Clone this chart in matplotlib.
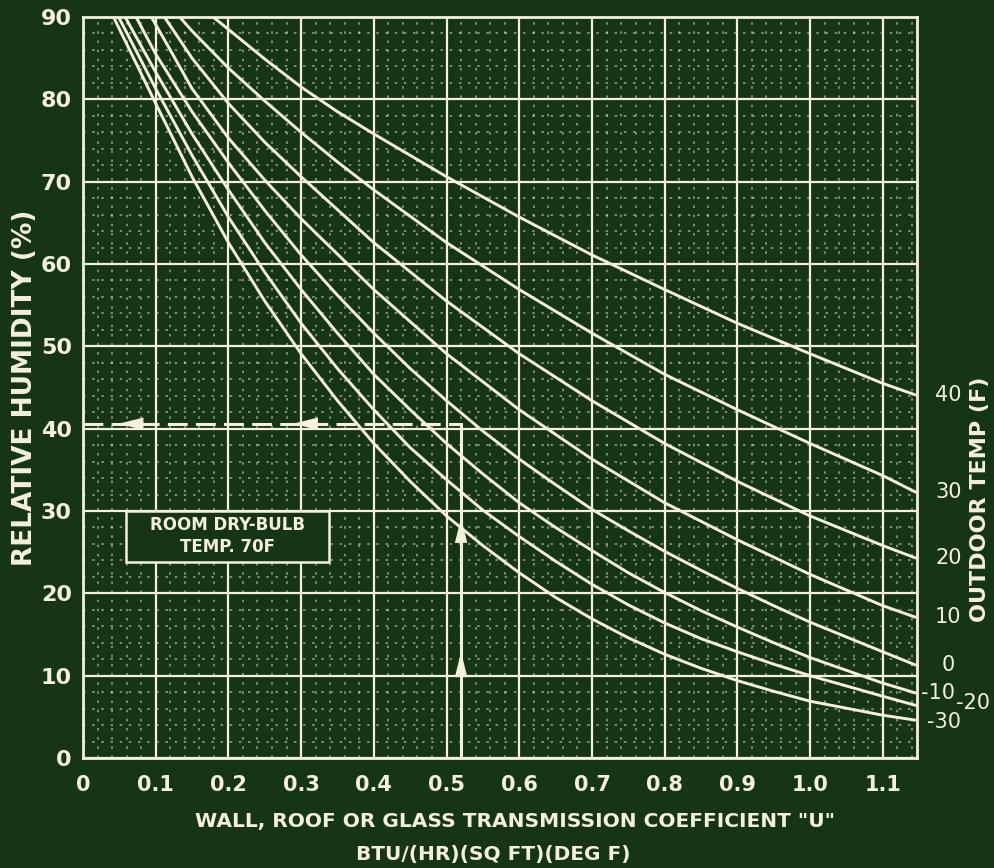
import matplotlib.pyplot as plt
import numpy as np
from matplotlib.patches import Rectangle

# Outdoor temperature curves (F) - U coefficient vs limiting relative humidity (%)
outdoor_temps = ['40', '30', '20', '10', '0', '-10', '-20', '-30']

u_40 = [0.179, 0.2, 0.25, 0.3, 0.35, 0.4, 0.5, 0.6, 0.7, 0.8, 0.9, 1.0, 1.1, 1.145]
rh_40 = [90, 88.5, 84.9, 81.5, 78.5, 75.8, 70.6, 65.7, 61.1, 56.9, 52.8, 49.1, 45.5, 44.1]

u_30 = [0.133, 0.15, 0.2, 0.25, 0.3, 0.35, 0.4, 0.5, 0.6, 0.7, 0.8, 0.9, 1.0, 1.1, 1.145]
rh_30 = [90, 88.3, 83.8, 79.8, 76.0, 72.4, 69.0, 62.6, 56.9, 51.6, 46.6, 42.3, 38.2, 34.3, 32.3]

u_20 = [0.112, 0.15, 0.2, 0.25, 0.3, 0.4, 0.5, 0.6, 0.7, 0.8, 0.9, 1.0, 1.1, 1.145]
rh_20 = [90, 85.0, 79.5, 74.8, 70.6, 62.6, 55.5, 49.1, 43.4, 38.2, 33.6, 29.4, 25.8, 24.3]

u_10 = [0.094, 0.12, 0.15, 0.2, 0.25, 0.3, 0.4, 0.5, 0.6, 0.7, 0.8, 0.9, 1.0, 1.1, 1.145]
rh_10 = [90, 86.0, 81.3, 75.3, 70.2, 65.5, 56.9, 49.1, 42.3, 36.3, 31.0, 26.5, 22.3, 18.5, 17.1]

u_0 = [0.073, 0.1, 0.15, 0.2, 0.25, 0.3, 0.35, 0.4, 0.45, 0.5, 0.55, 0.6, 0.65,
       0.7, 0.75, 0.8, 0.85, 0.9, 0.95, 1.0, 1.1, 1.145]
rh_0 = [90, 85.5, 78.5, 72.3, 66.5, 61.1, 56.2, 51.6, 47.3, 43.4, 39.7, 36.3, 33.2,
        30.2, 27.6, 25.1, 22.8, 20.6, 18.5, 16.5, 12.9, 11.3]

u_m10 = [0.058, 0.1, 0.15, 0.2, 0.25, 0.3, 0.35, 0.4, 0.45, 0.5, 0.55, 0.6, 0.65,
         0.7, 0.75, 0.8, 0.85, 0.9, 0.95, 1.0, 1.1, 1.145]
rh_m10 = [90, 83.3, 75.8, 69.0, 62.6, 56.9, 51.6, 46.6, 42.3, 38.2, 34.5, 31.0, 28.0,
          25.2, 22.5, 20.1, 17.9, 15.9, 14.0, 12.2, 9.1, 7.9]

u_m20 = [0.049, 0.1, 0.15, 0.2, 0.25, 0.3, 0.35, 0.4, 0.45, 0.5, 0.55, 0.6, 0.65,
         0.7, 0.75, 0.8, 0.85, 0.9, 0.95, 1.0, 1.1, 1.145]
rh_m20 = [90, 81.3, 73.2, 65.7, 59.0, 52.8, 47.3, 42.3, 37.7, 33.8, 30.1, 26.9, 23.9,
          21.1, 18.6, 16.4, 14.5, 12.9, 11.4, 10.0, 7.5, 6.4]

u_m30 = [0.042, 0.1, 0.15, 0.2, 0.25, 0.3, 0.35, 0.4, 0.45, 0.5, 0.55, 0.6, 0.65,
         0.7, 0.75, 0.8, 0.85, 0.9, 0.95, 1.0, 1.1, 1.145]
rh_m30 = [90, 79.5, 70.6, 62.6, 55.5, 49.1, 43.4, 38.2, 33.6, 29.4, 25.8, 22.5, 19.5,
          16.9, 14.6, 12.6, 10.9, 9.4, 8.1, 6.9, 5.2, 4.6]

curves_u = [u_40, u_30, u_20, u_10, u_0, u_m10, u_m20, u_m30]
curves_rh = [rh_40, rh_30, rh_20, rh_10, rh_0, rh_m10, rh_m20, rh_m30]

x_ticks = [0, 0.1, 0.2, 0.3, 0.4, 0.5, 0.6, 0.7, 0.8, 0.9, 1.0, 1.1]
x_tick_labels = ['0', '0.1', '0.2', '0.3', '0.4', '0.5', '0.6', '0.7', '0.8', '0.9', '1.0', '1.1']
y_ticks = [0, 10, 20, 30, 40, 50, 60, 70, 80, 90]

# worked example: U = 0.52 -> RH about 40.6 %
example_u = 0.52
example_rh = 40.6

bg = '#163416'
fg = '#f4f0da'
plt.rcParams['font.family'] = ['DejaVu Sans']
plt.rcParams['font.weight'] = 'bold'

fig = plt.figure(figsize=(9.95, 8.68), dpi=100)
fig.patch.set_facecolor(bg)
ax = fig.add_axes([0.0834, 0.1267, 0.8382, 0.8537])
ax.set_facecolor(bg)
ax.set_xlim(0, 1.147)
ax.set_ylim(0, 90)

ax.set_xticks(x_ticks)
ax.set_xticklabels(x_tick_labels)
ax.set_yticks(y_ticks)
ax.set_xticks(np.arange(0, 1.147, 0.02), minor=True)
ax.set_yticks(np.arange(0, 90, 2), minor=True)
ax.grid(which='major', color=fg, lw=1.6)
ax.grid(which='minor', color=fg, lw=1.2, ls=(0, (1.5, 4)), alpha=0.55)
ax.set_axisbelow(True)
ax.tick_params(which='both', length=0, colors=fg)
ax.tick_params(axis='x', labelsize=15, pad=12)
ax.tick_params(axis='y', labelsize=16, pad=8)
for s in ax.spines.values():
    s.set_color(fg)
    s.set_linewidth(2)

for u, rh in zip(curves_u, curves_rh):
    ax.plot(u, rh, color=fg, lw=2.1, solid_capstyle='round',
            solid_joinstyle='round', zorder=3)

# curve labels on the right
label_x = {'-10': 1.176, '-20': 1.224, '-30': 1.184}
label_dy = {'-20': 0.3, '-30': -0.2}
for t, rh in zip(outdoor_temps, curves_rh):
    ax.text(label_x.get(t, 1.19), rh[-1] + label_dy.get(t, 0), t, color=fg,
            fontsize=15, fontweight='normal', ha='center', va='center',
            clip_on=False)

# example path
ax.plot([0, example_u], [example_rh, example_rh], color=fg, lw=2.2,
        ls=(0, (6.5, 2.7)), zorder=3)
ax.plot([example_u, example_u], [0, example_rh], color=fg, lw=2.2, zorder=3)
for xa in [0.045, 0.285]:
    ax.annotate('', xy=(xa, example_rh), xytext=(xa + 0.03, example_rh),
                arrowprops=dict(arrowstyle='-|>,head_length=1.0,head_width=0.25',
                                color=fg, lw=0, mutation_scale=18), zorder=4)
for ya in [29.5, 13.2]:
    ax.annotate('', xy=(example_u, ya), xytext=(example_u, ya - 2.5),
                arrowprops=dict(arrowstyle='-|>,head_length=1.0,head_width=0.25',
                                color=fg, lw=0, mutation_scale=18), zorder=4)

# room condition box
ax.add_patch(Rectangle((0.059, 23.8), 0.279, 6.2, facecolor=bg, edgecolor=fg,
                       lw=1.8, zorder=4))
ax.text(0.1985, 28.3, 'ROOM DRY-BULB', color=fg, fontsize=12, ha='center',
        va='center', zorder=5)
ax.text(0.1985, 25.6, 'TEMP. 70F', color=fg, fontsize=12, ha='center',
        va='center', zorder=5)

fig.text(0.518, 0.053, 'WALL, ROOF OR GLASS TRANSMISSION COEFFICIENT "U"',
         color=fg, fontsize=14.5, ha='center', va='center')
fig.text(0.496, 0.015, 'BTU/(HR)(SQ FT)(DEG F)', color=fg, fontsize=14.5,
         ha='center', va='center')
fig.text(0.025, 0.553, 'RELATIVE HUMIDITY (%)', color=fg, fontsize=19,
         rotation=90, ha='center', va='center')
fig.text(0.985, 0.425, 'OUTDOOR TEMP (F)', color=fg, fontsize=16,
         rotation=90, ha='center', va='center')

fig.savefig('out.png', dpi=100, facecolor=bg)
